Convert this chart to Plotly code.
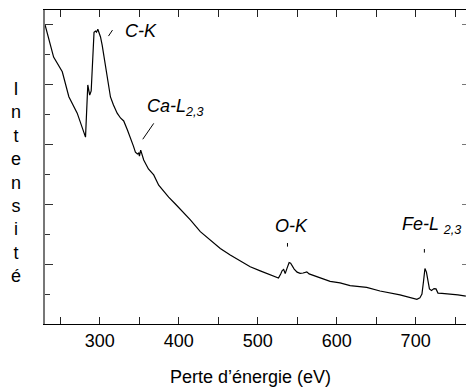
import plotly.graph_objects as go

# Energy loss (eV) and intensity (arbitrary units)
energy = [230.7, 241.5, 252.5, 260.8, 271.4, 281.9, 284.8, 287.2, 289.1, 291.4,
          292.7, 294.6, 295.8, 297.5, 299.2, 300.9, 303.0, 305.9, 308.5, 311.0,
          313.5, 317.3, 322.0, 326.2, 330.3, 335.0, 338.8, 342.6, 345.1, 347.7,
          349.3, 350.2, 351.8, 353.3, 355.6, 361.6, 368.3, 374.6, 380.5, 387.2,
          395.7, 404.5, 414.7, 427.3, 440.0, 452.6, 465.2, 477.9, 490.5, 503.2,
          515.8, 526.3, 529.1, 531.0, 532.9, 534.8, 537.3, 539.8, 541.7, 543.6,
          546.2, 549.9, 553.7, 557.5, 562.2, 565.1, 572.7, 579.0, 591.7, 604.3,
          617.0, 638.0, 654.9, 680.2, 692.8, 701.6, 705.4, 708.0, 709.9, 711.8,
          713.7, 715.6, 717.5, 720.1, 723.3, 725.8, 728.3, 733.3, 743.5, 753.6,
          763.6]
intensity = [9.97, 8.90, 8.41, 7.58, 7.03, 6.23, 7.97, 7.63, 7.77, 9.47,
             9.73, 9.77, 9.73, 9.83, 9.73, 9.57, 9.30, 8.80, 8.37, 7.97,
             7.57, 7.30, 7.03, 6.87, 6.77, 6.47, 6.23, 5.93, 5.73, 5.67,
             5.70, 5.60, 5.80, 5.63, 5.47, 5.17, 4.97, 4.63, 4.43, 4.23,
             4.00, 3.77, 3.47, 3.08, 2.80, 2.52, 2.30, 2.10, 1.91, 1.77,
             1.63, 1.53, 1.67, 1.78, 1.82, 1.68, 1.87, 2.05, 2.03, 1.93,
             1.83, 1.73, 1.69, 1.70, 1.74, 1.67, 1.60, 1.55, 1.42, 1.37,
             1.28, 1.22, 1.10, 0.97, 0.88, 0.82, 0.87, 1.00, 1.40, 1.85,
             1.73, 1.37, 1.17, 1.12, 1.18, 1.17, 1.03, 1.02, 1.00, 0.97,
             0.93]

# Edge labels
edge_labels = ["<i>C-K</i>", "<i>Ca-L<sub>2,3</sub></i>", "<i>O-K</i>", "<i>Fe-L <sub>2,3</sub></i>"]
label_x = [352.7, 357.8, 542.3, 680.0]
label_y = [9.77, 7.22, 3.27, 3.27]
label_anchor = ["center", "left", "center", "left"]
# leader marks (x0, y0, x1, y1)
leaders = [(311.0, 9.60, 316.1, 9.80),
           (354.4, 6.16, 368.3, 6.69),
           (537.7, 2.58, 537.7, 2.70),
           (711.1, 2.38, 711.1, 2.50)]

x_range = [230.6, 763.8]
y_range = [0, 10.47]
y_title = "Intensité"
x_title = "Perte d’énergie (eV)"

FONT = "Liberation Sans, Arial, sans-serif"

fig = go.Figure()
fig.add_trace(go.Scatter(x=energy, y=intensity, mode="lines",
                         line=dict(color="black", width=1.2), showlegend=False,
                         hoverinfo="skip"))
fig.add_trace(go.Scatter(x=energy, y=intensity, mode="lines", yaxis="y2",
                         line=dict(color="rgba(0,0,0,0)", width=0), showlegend=False,
                         hoverinfo="skip"))

for t, x, y, a in zip(edge_labels, label_x, label_y, label_anchor):
    fig.add_annotation(x=x, y=y, xref="x", yref="y", text=t, showarrow=False,
                       xanchor=a, yanchor="middle",
                       font=dict(family=FONT, size=18, color="black"))
for x0, y0, x1, y1 in leaders:
    fig.add_shape(type="line", x0=x0, y0=y0, x1=x1, y1=y1, xref="x", yref="y",
                  line=dict(color="black", width=1))

fig.add_annotation(x=-0.068, y=0.452, xref="paper", yref="paper",
                   text="<br>".join(list(y_title)), showarrow=False,
                   xanchor="center", yanchor="middle", align="center",
                   font=dict(family=FONT, size=18, color="black"))
fig.add_annotation(x=0.4875, y=-0.168, xref="paper", yref="paper",
                   text=x_title, showarrow=False,
                   xanchor="center", yanchor="middle",
                   font=dict(family=FONT, size=18, color="black"))

fig.update_layout(
    width=467, height=387,
    margin=dict(l=44.5, r=1, t=10, b=63),
    paper_bgcolor="white", plot_bgcolor="white",
    font=dict(family=FONT, size=18, color="black"),
    xaxis=dict(range=x_range, showgrid=False, zeroline=False,
               showline=True, linecolor="black", linewidth=1.2, mirror="allticks",
               ticks="inside", ticklen=7, tickwidth=1, tickcolor="#222",
               tick0=0, dtick=100, ticklabelstandoff=0,
               minor=dict(ticks="inside", ticklen=4, dtick=50, tick0=0, tickcolor="#222")),
    yaxis=dict(range=y_range, showgrid=False, zeroline=False,
               showline=True, linecolor="#777", linewidth=1.5,
               ticks="inside", ticklen=8, tickwidth=1, tickcolor="#333",
               tick0=0, dtick=2, showticklabels=False,
               minor=dict(ticks="inside", ticklen=5, dtick=1, tick0=0, tickcolor="#333")),
    yaxis2=dict(range=y_range, overlaying="y", side="right", showgrid=False,
                zeroline=False, showline=False, ticks="inside", ticklen=4,
                tickwidth=1, tickcolor="#777", tick0=0, dtick=2,
                showticklabels=False),
)

fig.write_html("out.html", config={"displayModeBar": False},
               post_script="document.body.style.margin='0';")
